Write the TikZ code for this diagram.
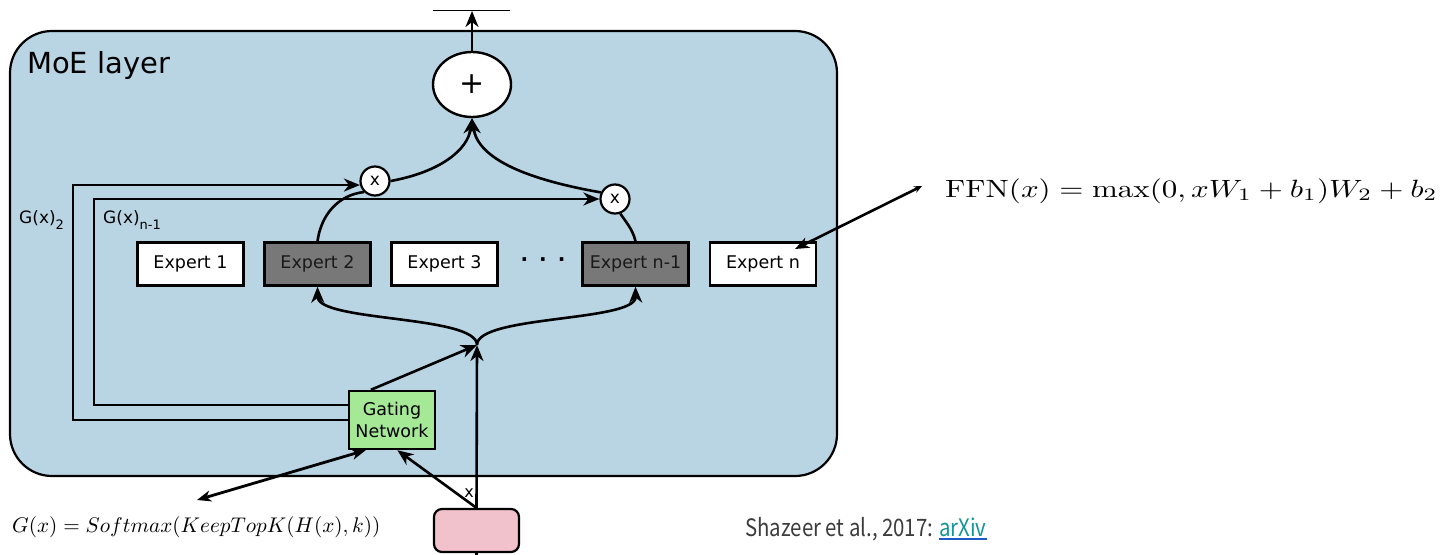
\documentclass[tikz,border=0pt]{standalone}
\usepackage{fontspec}
\usepackage{graphicx}
\usetikzlibrary{arrows.meta,shapes.geometric}
\newfontfamily\dvs{DejaVu Sans}
\newfontfamily\citefont{Noto Sans CJK KR}
\definecolor{moeblue}{RGB}{185,213,228}
\definecolor{expgray}{RGB}{120,120,120}
\definecolor{gategreen}{RGB}{165,232,150}
\definecolor{inpink}{RGB}{242,194,204}
\definecolor{citegray}{RGB}{60,60,60}
\definecolor{arxivteal}{RGB}{20,150,150}
\definecolor{linkblue}{RGB}{30,90,200}
\begin{document}
\begin{tikzpicture}[x=1pt,y=1pt,
  conn/.style={line width=2.6pt, draw=black},
  tip/.style={-{Stealth[length=16pt,width=13pt,inset=5pt]}},
  dualtip/.style={{Stealth[length=14pt,width=11pt,inset=4pt]}-{Stealth[length=14pt,width=11pt,inset=4pt]}},
  expert/.style={draw, line width=2.4pt, fill=white, minimum width=106, minimum height=43,
    inner sep=0, font=\dvs\fontsize{17.5}{20}\selectfont},
  active/.style={expert, fill=expgray, text=black!90},
  mul/.style={circle, draw, fill=white, line width=2.2pt, minimum size=29, inner sep=0,
    font=\dvs\fontsize{17}{17}\selectfont},
  gtext/.style={font=\dvs\fontsize{17}{17}\selectfont, anchor=base west, inner sep=0}
]
\useasboundingbox (0,0) rectangle (1445,-554);
\fill[white] (0,0) rectangle (1445,-554);

% layer container
\node[draw, line width=2.2pt, fill=moeblue, rounded corners=42pt, minimum width=827,
      minimum height=445, inner sep=0] (moe) at (423.5,-253.5) {};
\node[anchor=base west, inner sep=0, font=\dvs\fontsize{29}{29}\selectfont] (moelabel) at (27,-73) {MoE layer};

% combination nodes
\node[ellipse, draw, fill=white, line width=2.4pt, minimum width=78, minimum height=65,
      inner sep=0, font=\dvs\fontsize{30}{30}\selectfont] (plus) at (472,-84.5) {+};
\node[mul] (m1) at (375,-181) {x};
\node[mul] (m2) at (615,-199) {x};

% experts
\node[expert] (e1)  at (190.5,-264) {Expert 1};
\node[active] (e2)  at (317.5,-264) {Expert 2};
\node[expert] (e3)  at (444.5,-264) {Expert 3};
\node[font=\dvs\bfseries\fontsize{20}{20}\selectfont] (dots) at (543,-262) {·\hspace{11pt}·\hspace{11pt}·};
\node[active] (en1) at (635.5,-264) {Expert n-1};
\node[expert] (en)  at (763,-264) {Expert n};

% gating network and input
\node[draw, line width=2.4pt, fill=gategreen, minimum width=86, minimum height=58, inner sep=0,
      align=center, font=\dvs\fontsize{17.5}{22}\selectfont] (gate) at (392,-420) {Gating\\Network};
\node[draw, line width=2.2pt, fill=inpink, rounded corners=8pt, minimum width=85,
      minimum height=43, inner sep=0] (inp) at (476.5,-530.5) {};

% helper points
\coordinate (M) at (477,-345);
\coordinate (outtip) at (472,-11);
\coordinate (barL) at (433,-10);
\coordinate (barR) at (510,-10);
\coordinate (inbot) at (476.5,-556);
\coordinate (gtail) at (197,-500);
\coordinate (ffntip) at (922,-186);
\coordinate (entip) at (795,-249);

% output
\draw[conn,tip] (plus.north) -- (outtip);
\draw[line width=1pt] (barL) -- (barR);

% weighted expert outputs to the sum
\draw[conn,tip] (m1.east) .. controls (440,-172) and (468,-150) .. (plus.south);
\draw[conn,tip] (m2.155) .. controls (530,-180) and (478,-160) .. (plus.south);
\draw[conn] (e2.north) .. controls (321,-215) and (338,-195) .. (m1.225);
\draw[conn] (en1.north) .. controls (633,-230) and (626,-222) .. (m2.-70);

% gate weights
\draw[conn,tip] (gate.west) -- ++(-275,0) |- (m1.195);
\draw[conn,tip] ([yshift=15pt]gate.west) -- ++(-254,0) |- (m2.west);
\node[gtext] (g2) at (19,-223) {G(x)\raisebox{-6pt}{\fontsize{13}{13}\selectfont 2}};
\node[gtext] (gn1) at (103,-223) {G(x)\raisebox{-6pt}{\fontsize{13}{13}\selectfont n-1}};

% routing of the input
\draw[conn,tip] (gate.125) -- (M);
\draw[conn,tip] (inp.north) -- (M);
\draw[conn,tip] (inp.north) -- (gate.-80);
\draw[conn] (inp.south) -- (inbot);
\node[font=\dvs\fontsize{16}{16}\selectfont, inner sep=0] (xlab) at (469,-493) {x};
\draw[conn,tip] (M) .. controls (477,-315) and (318,-322) .. (e2.south);
\draw[conn,tip] (M) .. controls (477,-315) and (636,-322) .. (en1.south);

% formulas
\node[anchor=base west, inner sep=0] (gform) at (12,-532)
  {\scalebox{2.12}{$G(x) = Softmax(KeepTopK(H(x),k))$}};
\draw[line width=2.8pt, dualtip] (gtail) -- (gate.-131);
\node[anchor=base west, inner sep=0] (ffn) at (945,-197)
  {\scalebox{3.1}[2.5]{$\mathrm{FFN}(x) = \max(0, xW_1 + b_1)W_2 + b_2$}};
\draw[line width=2.6pt, {Stealth[length=8pt,width=7pt]}-{Stealth[length=14pt,width=11pt,inset=4pt]}] (ffntip) -- (entip);

% citation
\node[anchor=base west, inner sep=0, text=citegray, font=\citefont\fontsize{24}{24}\selectfont] (cite) at (745,-536)
  {\scalebox{0.85}[1]{Shazeer et al., 2017:}};
\node[anchor=base west, inner sep=0, text=arxivteal, font=\citefont\fontsize{24}{24}\selectfont] (arxiv) at (939,-536)
  {\scalebox{0.85}[1]{arXiv}};
\draw[linkblue, line width=2.5pt] ([yshift=-3pt]arxiv.base west) -- ([yshift=-3pt]arxiv.base east);
\end{tikzpicture}
\end{document}
